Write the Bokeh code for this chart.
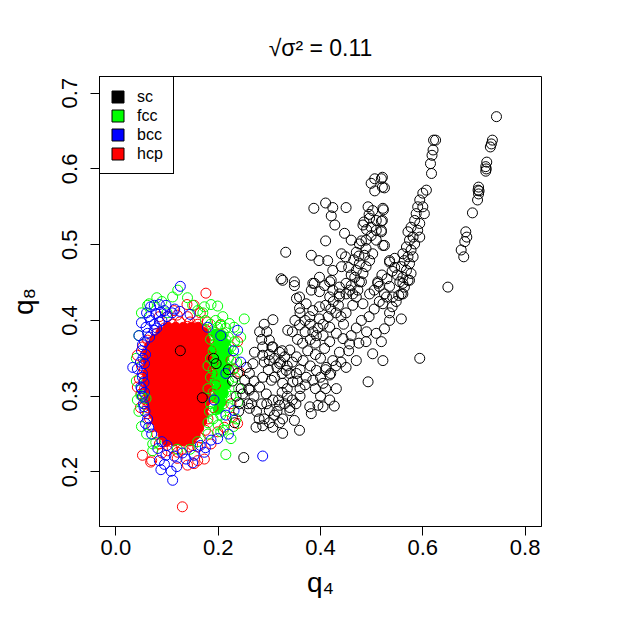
from bokeh.plotting import figure
from bokeh.models import Legend, LegendItem, Range1d, FixedTicker, PrintfTickFormatter
from bokeh.embed import file_html
from bokeh.resources import INLINE

FONT = "Liberation Sans"
NAN = float("nan")

title_text = "\u221a\u03c3\u00b2 = 0.11"
x_label = "q\u2084"
y_label = "q\u2088"
x_ticks = [0.0, 0.2, 0.4, 0.6, 0.8]
y_ticks = [0.2, 0.3, 0.4, 0.5, 0.6, 0.7]
legend_labels = ["sc", "fcc", "bcc", "hcp"]
legend_colors = ["black", "#00FF00", "#0000FF", "#FF0000"]

# sc points (q4, q8)
sc_points = [
    (.744,.669),(.736,.638),(.732,.629),(.734,.633),(.725,.609),(.723,.603),(.724,.600),(.723,.597),
    (.709,.576),(.708,.572),(.710,.571),(.709,.567),(.707,.559),(.697,.542),(.684,.517),(.686,.510),
    (.682,.504),(.675,.493),(.680,.484),(.649,.444),
    (.621,.638),(.625,.638),(.620,.625),(.618,.618),(.615,.607),(.617,.594),
    (.607,.572),(.600,.568),(.594,.559),(.590,.550),(.600,.550),(.587,.541),(.603,.541),(.584,.532),
    (.594,.528),(.577,.523),(.590,.519),(.571,.517),(.581,.510),(.594,.510),(.574,.506),(.584,.501),
    (.568,.497),(.577,.493),(.561,.488),(.571,.484),(.581,.484),(.564,.479),(.574,.475),(.558,.471),
    (.568,.466),(.577,.462),(.561,.457),(.571,.453),(.555,.451),(.564,.444),(.558,.435),(.541,.431),
    (.535,.479),(.545,.482),(.548,.425),(.540,.418),(.535,.410),(.529,.431),(.553,.433),
    (.519,.587),(.521,.576),(.522,.548),(.521,.532),(.519,.519),(.525,.499),
    (.506,.587),(.521,.589),(.499,.581),(.506,.571),(.525,.575),
    (.387,.548),(.410,.555),(.424,.549),(.450,.549),(.421,.538),(.428,.526),
    (.493,.550),(.502,.545),(.523,.546),(.496,.535),(.509,.532),(.519,.531),(.483,.526),(.499,.523),
    (.509,.519),(.519,.517),(.499,.512),(.489,.506),(.509,.506),(.522,.499),(.447,.515),(.460,.506),
    (.410,.505),(.476,.501),(.489,.495),(.502,.488),(.486,.486),(.496,.479),(.476,.475),(.489,.471),
    (.470,.466),(.483,.462),(.467,.457),(.480,.451),(.460,.446),(.473,.440),(.463,.435),(.512,.451),
    (.535,.477),(.441,.488),(.449,.484),(.382,.486),(.397,.479),(.414,.479),(.332,.490),(.441,.471),
    (.424,.466),(.323,.455),(.349,.451),(.349,.446),(.398,.457),(.388,.449),(.408,.446),(.421,.453),
    (.382,.440),(.398,.438),(.424,.440),(.437,.444),(.359,.431),(.437,.431),(.450,.435),
    (.326,.453),(.385,.449),(.418,.451),(.450,.449),(.476,.451),(.512,.449),(.561,.449),(.574,.453),
    (.353,.429),(.372,.422),(.359,.416),(.385,.413),(.398,.418),(.418,.431),(.437,.435),(.457,.440),
    (.470,.431),(.463,.420),(.483,.422),(.496,.435),(.522,.422),(.561,.435),(.535,.400),(.558,.402),
    (.525,.389),(.509,.383),(.519,.372),(.489,.372),(.502,.356),(.522,.347),(.594,.350),(.493,.319),
    (.307,.401),(.281,.385),(.336,.387),(.379,.405),(.398,.402),(.359,.394),(.392,.380),(.418,.391),
    (.431,.383),(.444,.376),(.457,.369),(.418,.372),(.408,.363),(.437,.358),(.450,.338),(.470,.347),
    (.424,.347),(.392,.334),(.411,.338),(.418,.328),(.385,.321),(.405,.317),(.431,.310),(.418,.295),
    (.405,.286),(.395,.288),(.379,.286),(.382,.277),(.427,.287),
    (.307,.365),(.320,.358),(.340,.361),(.353,.352),(.366,.347),(.287,.354),(.271,.358),(.300,.347),
    (.320,.343),(.333,.334),(.353,.330),(.372,.325),(.346,.319),(.326,.317),(.304,.321),(.287,.325),
    (.281,.312),(.294,.303),(.307,.295),(.320,.288),(.340,.281),(.349,.268),(.326,.270),(.307,.259),
    (.287,.261),(.274,.259),(.326,.251),(.359,.255),(.300,.281),(.261,.284),(.258,.290),(.248,.303),
    (.261,.308),(.252,.321),(.261,.330),(.268,.343),(.255,.338),(.287,.365),(.300,.374),
    (.250,.219),(.126,.360),(.169,.298),(.191,.350),(.196,.343),(.220,.335),(.228,.320),(.235,.300),
    (.240,.280),(.232,.265),(.245,.310),(.238,.330),(.242,.290),
    (.300,.355),(.310,.350),(.322,.345),(.330,.352),(.315,.338),(.335,.340),(.305,.365),(.325,.360),
    (.345,.345),(.290,.345),(.298,.335),(.310,.325),(.325,.330),(.340,.330),
    (.325,.305),(.335,.300),(.345,.295),(.330,.290),(.340,.285),(.352,.290),(.318,.295),(.335,.310),
    (.360,.300),
    (.410,.420),(.420,.415),(.430,.410),(.440,.405),(.425,.425),(.435,.420),(.415,.405),(.445,.395),
    (.450,.410),(.405,.395),
    (.370,.385),(.380,.375),(.390,.370),(.365,.370),(.375,.360),(.385,.385),
    (.270,.300),(.265,.290),(.275,.280),(.280,.270),(.260,.310),(.270,.320),(.285,.290),
    (.410,.335),(.420,.330),(.400,.325),(.430,.340),(.440,.345),
    (.470,.390),(.480,.400),(.460,.380),(.490,.385),(.475,.370),(.455,.360),
    (.285,.375),(.295,.385),(.290,.395),
    (.505,.440),(.515,.445),(.520,.460),(.530,.455),(.540,.465),(.545,.470),(.550,.460),(.535,.445),
    (.525,.435),(.515,.425),(.505,.415),(.495,.405),
    (.485,.530),(.490,.520),(.495,.540),(.480,.505),(.470,.490),(.465,.480),(.475,.485),(.455,.470),
    (.460,.460),
    (.350,.400),(.360,.410),(.370,.400),(.345,.385),(.355,.375),(.395,.390),(.405,.380),(.380,.395),
    (.390,.355),(.400,.350),(.380,.340),(.360,.335),(.370,.315),(.360,.310),(.355,.320),(.390,.310),
    (.400,.300),(.410,.310),
    (.290,.270),(.300,.265),(.310,.275),(.320,.265),(.315,.280),(.295,.290),
]

# bcc points
bcc_points = [
    (.126,.445),(.068,.418),(.085,.421),(.098,.420),(.078,.409),(.088,.411),(.050,.397),(.068,.400),
    (.085,.398),(.062,.383),(.059,.391),(.075,.387),(.056,.372),(.033,.338),(.042,.336),(.049,.312),
    (.095,.413),(.179,.391),(.238,.387),(.244,.345),(.056,.343),(.052,.325),(.054,.290),(.055,.286),
    (.058,.264),(.064,.259),(.082,.231),(.088,.203),(.108,.201),(.111,.189),(.119,.207),(.098,.222),
    (.114,.221),(.137,.217),(.153,.222),(.173,.226),(.186,.242),(.199,.244),(.192,.295),(.215,.275),
    (.231,.281),(.287,.221),
    (.050,.360),(.053,.350),(.052,.330),(.050,.310),(.052,.300),(.057,.280),(.062,.270),(.070,.250),
    (.090,.240),(.100,.235),(.080,.390),(.090,.400),(.100,.405),(.110,.410),(.065,.405),(.058,.355),
    (.052,.368),(.066,.378),(.075,.395),(.055,.318),(.056,.305),(.115,.415),(.125,.412),(.145,.408),
    (.205,.380),(.230,.360),(.215,.330),(.220,.250),(.165,.235),(.130,.225),(.045,.380),(.060,.410),
    (.075,.420),(.048,.345),(.085,.215),(.095,.210),(.150,.212),(.175,.232),
]

# fcc points
fcc_points = [
    (.121,.440),(.111,.431),(.065,.422),(.062,.420),(.173,.418),(.186,.421),(.199,.419),(.160,.413),
    (.209,.405),(.251,.402),(.222,.396),(.231,.391),(.199,.391),(.192,.380),(.244,.378),(.215,.374),
    (.225,.365),(.238,.361),(.049,.301),(.059,.297),(.042,.295),(.215,.223),(.225,.244),(.205,.253),
    (.072,.228),(.078,.239),(.053,.299),(.072,.237),
    (.185,.395),(.195,.400),(.205,.395),(.215,.390),(.190,.385),(.200,.380),(.210,.383),(.220,.378),
    (.185,.375),(.195,.370),(.205,.372),(.215,.365),(.190,.360),(.200,.355),(.210,.358),(.220,.350),
    (.185,.350),(.195,.345),(.205,.340),(.215,.335),(.190,.335),(.200,.328),(.210,.325),(.220,.320),
    (.185,.325),(.195,.318),(.205,.312),(.215,.305),(.190,.305),(.200,.298),(.210,.290),(.220,.285),
    (.185,.290),(.195,.282),(.205,.275),(.215,.268),(.190,.270),(.200,.262),(.210,.255),(.225,.300),
    (.228,.335),(.230,.350),(.180,.340),(.180,.310),(.183,.280),(.180,.265),(.175,.400),(.170,.410),
    (.150,.420),(.140,.430),(.100,.410),(.090,.425),(.080,.430),(.050,.410),(.045,.380),(.040,.350),
    (.040,.320),(.045,.280),(.050,.260),(.060,.250),(.160,.240),(.180,.250),(.145,.230),(.120,.230),
    (.235,.270),(.230,.260),(.240,.310),(.232,.372),(.236,.345),(.233,.325),(.238,.292),
]

# fcc points: dense part (overlapping rings read as solid)
fcc_core_points = [
    (.195,.382),(.208,.380),(.200,.372),(.213,.370),(.193,.363),(.206,.361),(.217,.358),(.198,.353),
    (.211,.350),(.193,.343),(.205,.341),(.216,.338),(.199,.332),(.211,.329),(.194,.322),(.206,.320),
    (.215,.315),(.199,.310),(.210,.304),(.195,.298),(.206,.292),(.200,.283),
]

# hcp points: outer rings
hcp_points = [
    (.176,.436),(.139,.421),(.153,.420),(.114,.413),(.101,.405),(.140,.405),(.160,.400),(.179,.398),
    (.205,.394),(.238,.372),(.225,.347),(.231,.336),(.241,.332),(.042,.354),(.046,.323),(.049,.303),
    (.052,.365),(.062,.374),(.052,.222),(.068,.213),(.070,.215),(.140,.209),(.153,.211),(.173,.217),
    (.160,.215),(.130,.154),(.238,.264),(.228,.272),(.225,.290),(.212,.259),(.199,.253),(.042,.312),
    (.056,.303),(.062,.277),(.085,.237),(.101,.228),(.121,.226),(.143,.233),(.160,.233),(.186,.237),
    (.060,.345),(.055,.335),(.055,.320),(.056,.310),(.058,.295),(.062,.285),(.066,.270),(.072,.260),
    (.080,.250),(.095,.240),(.110,.232),(.130,.230),(.150,.235),(.165,.245),(.175,.255),(.180,.270),
    (.185,.300),(.188,.330),(.186,.360),(.182,.375),(.175,.388),(.160,.395),(.145,.398),(.125,.398),
    (.110,.395),(.095,.390),(.080,.383),(.070,.372),(.062,.360),(.190,.345),(.195,.315),(.190,.285),
    (.085,.405),(.120,.407),(.165,.410),(.050,.340),(.048,.285),(.090,.225),(.120,.218),
]

# hcp points: dense core (overlapping rings read as solid)
hcp_core_points = [
    (.102,.391),(.117,.391),(.132,.391),(.147,.391),(.161,.391),
    (.088,.384),(.106,.384),(.121,.384),(.137,.384),(.152,.384),(.166,.384),(.172,.384),
    (.076,.375),(.086,.375),(.101,.375),(.117,.375),(.133,.375),(.148,.375),(.164,.375),(.175,.375),
    (.066,.366),(.076,.366),(.092,.366),(.108,.366),(.123,.366),(.139,.366),(.155,.366),(.170,.366),(.178,.366),
    (.063,.357),(.072,.357),(.084,.357),(.100,.357),(.116,.357),(.131,.357),(.147,.357),(.162,.357),(.179,.357),
    (.062,.348),(.075,.348),(.090,.348),(.106,.348),(.121,.348),(.137,.348),(.152,.348),(.168,.348),(.180,.348),
    (.063,.339),(.072,.339),(.084,.339),(.099,.339),(.115,.339),(.130,.339),(.146,.339),(.162,.339),(.180,.339),
    (.062,.330),(.075,.330),(.090,.330),(.106,.330),(.121,.330),(.137,.330),(.153,.330),(.168,.330),(.181,.330),
    (.062,.321),(.072,.321),(.083,.321),(.099,.321),(.114,.321),(.130,.321),(.146,.321),(.161,.321),(.177,.321),
    (.063,.312),(.074,.312),(.089,.312),(.105,.312),(.121,.312),(.136,.312),(.152,.312),(.167,.312),(.181,.312),
    (.064,.303),(.072,.303),(.082,.303),(.098,.303),(.113,.303),(.129,.303),(.145,.303),(.160,.303),(.176,.303),
    (.066,.294),(.076,.294),(.088,.294),(.104,.294),(.120,.294),(.135,.294),(.151,.294),(.166,.294),(.175,.294),
    (.070,.285),(.081,.285),(.097,.285),(.112,.285),(.128,.285),(.144,.285),(.159,.285),(.172,.285),
    (.074,.276),(.088,.276),(.103,.276),(.119,.276),(.134,.276),(.150,.276),(.165,.276),(.171,.276),
    (.079,.267),(.096,.267),(.111,.267),(.127,.267),(.143,.267),(.158,.267),(.168,.267),
    (.085,.258),(.102,.258),(.118,.258),(.134,.258),(.149,.258),(.162,.258),
    (.092,.249),(.109,.249),(.125,.249),(.141,.249),(.155,.249),
    (.100,.241),(.114,.241),(.130,.241),(.145,.241),
]


def split(points):
    return [pt[0] for pt in points], [pt[1] for pt in points]


p = figure(
    frame_width=442, frame_height=450,
    min_border_left=99, min_border_right=69, min_border_top=76, min_border_bottom=92,
    x_range=Range1d(-0.032, 0.832), y_range=Range1d(0.128, 0.722),
    output_backend="svg", toolbar_location=None,
)
p.background_fill_color = "white"
p.border_fill_color = "white"
p.outline_line_color = "black"
p.outline_line_width = 1
p.outline_line_alpha = 1
p.xgrid.visible = False
p.ygrid.visible = False

p.title.text = title_text
p.title.text_font = FONT
p.title.text_font_size = "23px"
p.title.text_font_style = "normal"
p.title.text_color = "black"
p.title.align = "center"
p.title.standoff = 31

for ax in (p.xaxis[0], p.yaxis[0]):
    ax.axis_line_color = "black"
    ax.major_tick_line_color = "black"
    ax.minor_tick_line_color = None
    ax.major_tick_in = 0
    ax.major_tick_out = 9
    ax.major_label_text_font = FONT
    ax.major_label_text_font_size = "22px"
    ax.major_label_text_color = "black"
    ax.axis_label_text_font = FONT
    ax.axis_label_text_font_size = "28px"
    ax.axis_label_text_font_style = "normal"
    ax.axis_label_text_color = "black"
    ax.formatter = PrintfTickFormatter(format="%.1f")

p.xaxis.ticker = FixedTicker(ticks=x_ticks)
p.yaxis.ticker = FixedTicker(ticks=y_ticks)
p.xaxis.axis_label = x_label
p.yaxis.axis_label = y_label
p.xaxis.major_label_standoff = 4
p.xaxis.axis_label_standoff = 9
p.yaxis.major_label_orientation = "vertical"
p.yaxis.major_label_standoff = 13
p.yaxis.axis_label_standoff = 21

ring = dict(marker="circle", size=10, fill_color=None, line_width=1)

hx, hy = split(hcp_core_points)
p.scatter(hx, hy, marker="circle", size=10, fill_color="#FF0000", line_color="#FF0000", line_width=1)
gx, gy = split(fcc_core_points)
p.scatter(gx, gy, marker="circle", size=10, fill_color="#00FF00", line_color="#00FF00", line_width=1)
hx, hy = split(hcp_points)
p.scatter(hx, hy, line_color="#FF0000", **ring)
fx, fy = split(fcc_points)
p.scatter(fx, fy, line_color="#00FF00", **ring)
bx, by = split(bcc_points)
p.scatter(bx, by, line_color="#0000FF", **ring)
sx, sy = split(sc_points)
p.scatter(sx, sy, line_color="black", **ring)

items = []
for lab, col in zip(legend_labels, legend_colors):
    # legend key only: a single NaN point is never drawn in the plot
    r = p.quad(left=[NAN], right=[NAN], top=[NAN], bottom=[NAN],
               fill_color=col, line_color="black", line_width=1)
    items.append(LegendItem(label=lab, renderers=[r]))

legend = Legend(
    items=items, location="top_left", margin=0, padding=10, spacing=0,
    glyph_width=15, glyph_height=15, label_height=19, label_standoff=12,
    label_text_font=FONT, label_text_font_size="16px", label_text_color="black",
    border_line_color="black", border_line_width=1, border_line_alpha=1,
    background_fill_color="white", background_fill_alpha=1,
)
p.add_layout(legend)

open("out.html", "w").write(file_html(p, INLINE))
